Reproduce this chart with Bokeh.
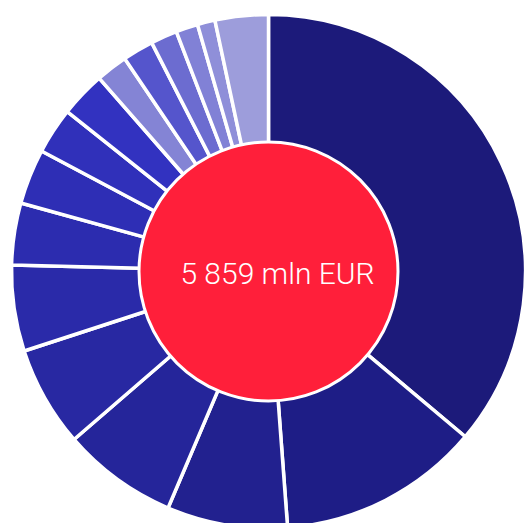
import math
from bokeh.plotting import figure
from bokeh.models import ColumnDataSource
from bokeh.core.properties import value
from bokeh.embed import file_html
from bokeh.resources import INLINE

# Data (mln EUR), clockwise from 12 o'clock
segments = ["S1", "S2", "S3", "S4", "S5", "S6", "S7", "S8",
            "S9", "S10", "S11", "S12", "S13", "S14", "S15", "Other"]
values = [2116, 744, 444, 426, 371, 317, 228, 203,
          171, 168, 117, 114, 98, 81, 65, 196]
total_label = "5 859 mln EUR"

colors = ["#1c1a7a", "#1e1d86", "#22218f", "#25259a", "#2828a2", "#2a2aa9",
          "#2c2caf", "#2e2eb5", "#3030ba", "#3232c0", "#8484d5", "#5555cc",
          "#6c6cd0", "#8181d6", "#8f8fd9", "#9d9ddb"]

total = sum(values)
starts, ends = [], []
cum = 0.0
for v in values:
    starts.append(math.pi / 2 - 2 * math.pi * cum / total)
    cum += v
    ends.append(math.pi / 2 - 2 * math.pi * cum / total)

src = ColumnDataSource(dict(segment=segments, value=values, start=starts,
                            end=ends, color=colors))

W, H = 524, 523
cx, cy = 268, 271
p = figure(width=W, height=H, output_backend="svg", toolbar_location=None,
           x_range=(-cx, W - cx), y_range=(-(H - cy), cy),
           min_border=0, match_aspect=False)
p.axis.visible = False
p.grid.visible = False
p.outline_line_color = None
p.background_fill_color = "white"
p.border_fill_color = "white"

p.annular_wedge(x=0, y=0, inner_radius=127, outer_radius=257,
                start_angle="start", end_angle="end", direction="clock",
                fill_color="color", line_color="white", line_width=3.5,
                source=src)

p.circle(x=[0], y=[0], radius=129.5, fill_color="#ff1f3a",
         line_color="white", line_width=3)

p.text(x=[0], y=[-2], x_offset=9, text=[total_label], text_align="center",
       text_baseline="middle", text_color="white",
       text_font=value("Roboto Light"), text_font_size="30px")

open("out.html", "w").write(file_html(p, INLINE))
